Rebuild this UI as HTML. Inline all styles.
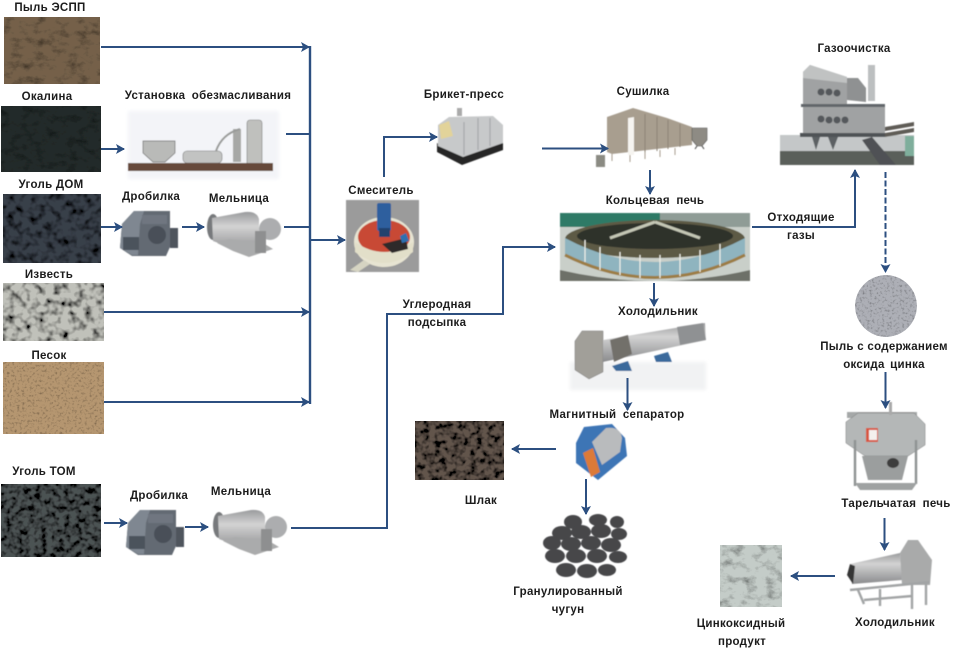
<!DOCTYPE html>
<html><head><meta charset="utf-8">
<style>
html,body{margin:0;padding:0;background:#fff;width:957px;height:651px;overflow:hidden}
svg{display:block}
text{font-family:"Liberation Sans","DejaVu Sans",sans-serif;font-weight:bold;font-size:11.5px;fill:#1c1c1c;text-anchor:middle;letter-spacing:.28px}
.l{fill:none;stroke:#2c4f80;stroke-width:2}
.th{stroke-width:2.4}
</style></head><body>
<svg width="957" height="651" viewBox="0 0 957 651" xmlns="http://www.w3.org/2000/svg">
<defs>
<marker id="a" markerUnits="userSpaceOnUse" markerWidth="10" markerHeight="12" refX="8" refY="5" orient="auto"><path d="M0 0L9 5L0 10L2 5Z" fill="#2c4f80"/></marker>
<filter id="dust" x="0" y="0" width="100%" height="100%"><feTurbulence type="fractalNoise" baseFrequency=".09 .13" numOctaves="4" seed="3"/><feColorMatrix values="1.5 0 0 0 .2 1.5 0 0 0 .2 1.5 0 0 0 .2 0 0 0 0 1"/><feBlend in2="SourceGraphic" mode="multiply"/><feComposite in2="SourceGraphic" operator="in"/></filter>
<filter id="rock" x="0" y="0" width="100%" height="100%"><feTurbulence type="fractalNoise" baseFrequency=".13" numOctaves="2" seed="7"/><feColorMatrix values="2.6 0 0 0 -.5 2.6 0 0 0 -.5 2.6 0 0 0 -.5 0 0 0 0 1"/><feBlend in2="SourceGraphic" mode="multiply"/><feComposite in2="SourceGraphic" operator="in"/></filter>
<filter id="rock2" x="0" y="0" width="100%" height="100%"><feTurbulence type="fractalNoise" baseFrequency=".17" numOctaves="2" seed="11"/><feColorMatrix values="3 0 0 0 -.85 3 0 0 0 -.85 3 0 0 0 -.85 0 0 0 0 1"/><feBlend in2="SourceGraphic" mode="multiply"/><feComposite in2="SourceGraphic" operator="in"/></filter>
<filter id="fine" x="0" y="0" width="100%" height="100%"><feTurbulence type="fractalNoise" baseFrequency=".4" numOctaves="2" seed="5"/><feColorMatrix values="1.4 0 0 0 .3 1.4 0 0 0 .3 1.4 0 0 0 .3 0 0 0 0 1"/><feBlend in2="SourceGraphic" mode="multiply"/><feComposite in2="SourceGraphic" operator="in"/></filter>
<filter id="b"><feGaussianBlur stdDeviation=".5"/></filter>
<filter id="t"><feGaussianBlur stdDeviation=".3"/></filter>
<filter id="b2"><feGaussianBlur stdDeviation="1.8"/></filter>
<linearGradient id="drum" x1="0" y1="0" x2="0" y2="1"><stop offset="0" stop-color="#9a9b9d"/><stop offset=".35" stop-color="#d3d3d3"/><stop offset="1" stop-color="#8a8b8d"/></linearGradient>
<g id="crusher"><path d="M2 14L14 1H50V37L46 46H12L0 38Z" fill="#636a73"/><path d="M2 14L14 1H24L20 14L18 45H12L0 38Z" fill="#7f8791"/><rect x="3" y="27" width="16" height="13" fill="#4c535c"/><circle cx="37" cy="25" r="9" fill="#4a5058"/><rect x="22" y="5" width="25" height="9" fill="#6f7680"/><rect x="50" y="18" width="8" height="20" fill="#4f555d"/></g>
<g id="mill"><ellipse cx="8" cy="14" rx="6" ry="13" fill="#77797c"/><path d="M7 5L40 -1Q52 -2 54 6L54 30L40 40L8 28Z" fill="url(#drum)"/><ellipse cx="65" cy="16" rx="11" ry="11" fill="#acadaf"/><path d="M12 30L24 26L58 30L68 36L44 44L28 38Z" fill="#aaabac"/><rect x="50" y="18" width="11" height="22" fill="#8e8f90"/></g>
</defs>
<rect width="957" height="651" fill="#fff"/>

<!-- material photos -->
<rect x="4" y="17" width="96" height="67" fill="#75614a" filter="url(#dust)"/>
<rect x="1" y="106" width="100" height="66" fill="#232b2a" filter="url(#dust)"/>
<rect x="3" y="194" width="98" height="69" fill="#383f49" filter="url(#rock)"/>
<rect x="3" y="283" width="101" height="58" fill="#c0c1ba" filter="url(#rock)"/>
<rect x="3" y="362" width="101" height="72" fill="#b59670" filter="url(#fine)"/>
<rect x="1" y="484" width="100" height="73" fill="#4c5253" filter="url(#rock2)"/>
<rect x="415" y="421" width="89" height="59" fill="#62554c" filter="url(#rock2)"/>
<rect x="720" y="545" width="62" height="62" fill="#c4ccc8" filter="url(#dust)"/>

<!-- De-oiling unit -->
<g filter="url(#b)">
<rect x="128" y="111" width="151" height="68" fill="#f3f4f8" filter="url(#b2)"/>
<path d="M143 141H175V153L165 162H153L143 153Z" fill="#b9bab8" stroke="#6c6c6c" stroke-width=".7"/>
<rect x="183" y="151" width="39" height="12" rx="4" fill="#c2c3c2" stroke="#777" stroke-width=".6"/>
<rect x="233" y="129" width="8" height="33" fill="#a7a8a6"/>
<rect x="247" y="120" width="15" height="48" rx="3" fill="#bfc0bd" stroke="#7a7a7a" stroke-width=".6"/>
<path d="M216 151Q222 134 240 129" fill="none" stroke="#9a9b9a" stroke-width="2"/>
<rect x="128" y="163" width="145" height="8" fill="#664a3a"/>
</g>

<!-- Crushers and mills -->
<use href="#crusher" x="120" y="210" filter="url(#b)"/>
<use href="#mill" x="205" y="213" filter="url(#b)"/>
<use href="#crusher" x="126" y="509" filter="url(#b)"/>
<use href="#mill" x="211" y="511" filter="url(#b)"/>

<!-- Mixer -->
<g filter="url(#b)">
<rect x="346" y="200" width="73" height="72" fill="#9b9b9b"/>
<ellipse cx="384" cy="242" rx="30" ry="25" fill="#e7e4d2"/>
<ellipse cx="384" cy="237" rx="26" ry="17" fill="#c84a36"/>
<path d="M355 242Q384 262 413 242V252Q384 274 355 252Z" fill="#e2dfc9"/>
<rect x="377" y="203" width="14" height="28" rx="2" fill="#2f5f9e"/>
<rect x="379" y="228" width="11" height="9" fill="#24426e"/>
<path d="M382 244L406 238L408 249L392 253Z" fill="#2d2a2a"/>
<path d="M400 236L406 233L409 241L402 243Z" fill="#2f6fb0"/>
<path d="M350 270L364 260L370 264L358 272Z" fill="#d6d4c2"/>
</g>

<!-- Press -->
<g filter="url(#b)">
<path d="M437 152L462 165L503 150V141L462 155L437 143Z" fill="#262626"/>
<path d="M438 125L449 117L493 116L503 125V143L463 157L438 146Z" fill="#c7c9ca"/>
<path d="M439 125L449 121L453 136L441 139Z" fill="#e2d39a"/>
<path d="M464 122V155M478 118V150M490 118V146" stroke="#a6a8aa" stroke-width="1.2"/>
<rect x="457" y="108" width="5" height="8" fill="#aaa"/>
</g>

<!-- Dryer -->
<g filter="url(#b)">
<path d="M607 117L633 108L667 118L692 127V145L612 154L607 152Z" fill="#a89e8f"/>
<path d="M628 118L634 117V155L628 155Z" fill="#f6f4f0"/>
<path d="M645 114V152M657 117V151M668 120V149M680 124V147" stroke="#8c8374" stroke-width="1"/>
<path d="M612 154V161M630 155V162M645 152V159M660 150V157M675 148V155" stroke="#a89e8f" stroke-width="1"/>
<path d="M692 128H707V140L702 146H697L692 140Z" fill="#8e8b84" stroke="#555" stroke-width=".6"/>
<path d="M697 146L695 149M702 146L704 149" stroke="#444"/>
<rect x="596" y="155" width="9" height="12" fill="#8b8b83"/>
</g>

<!-- Ring furnace -->
<g filter="url(#b)">
<rect x="560" y="213" width="190" height="68" fill="#c9cfc9"/>
<rect x="560" y="213" width="100" height="14" fill="#2f7a66"/>
<rect x="660" y="213" width="90" height="14" fill="#8f9c96"/>
<ellipse cx="655" cy="239" rx="90" ry="19" fill="#5d5a44"/>
<ellipse cx="655" cy="236" rx="78" ry="13" fill="#2e312c"/>
<path d="M565 238Q655 286 745 238V255Q655 300 565 255Z" fill="#8fb4bf"/>
<path d="M565 255Q655 300 745 255" fill="none" stroke="#9c7d45" stroke-width="3"/>
<path d="M655 222L610 238M655 222L700 238" stroke="#c4c7b5" stroke-width="3"/>
<path d="M585 240V262M600 247V270M620 252V275M640 255V278M660 255V278M680 254V276M700 250V272M720 244V266" stroke="#efefe8" stroke-width="1.2"/>
<path d="M560 270Q655 292 750 270V281H560Z" fill="#6d7067"/>
</g>

<!-- Gas cleaning -->
<g filter="url(#b)">
<rect x="780" y="135" width="134" height="30" fill="#c4c7c8"/>
<path d="M803 72L810 65L847 77V105H885V135H803Z" fill="#a0a2a3"/>
<path d="M803 72L810 65L847 77V83L803 78Z" fill="#c0c2c2"/>
<rect x="801" y="104" width="84" height="3" fill="#62666a"/>
<rect x="868" y="65" width="7" height="36" fill="#bcbfc0"/>
<path d="M847 78H858L866 88V102L847 100Z" fill="#8f9192"/>
<g fill="#55595c"><circle cx="821" cy="92" r="3.5"/><circle cx="829" cy="92" r="3.5"/><circle cx="837" cy="93" r="3.5"/><circle cx="821" cy="119" r="3.5"/><circle cx="829" cy="120" r="3.5"/><circle cx="837" cy="120" r="3.5"/><circle cx="845" cy="120" r="3.5"/></g>
<rect x="800" y="133" width="85" height="4" fill="#4f5356"/>
<path d="M812 137H820L816 150ZM828 137H838L833 150Z" fill="#5c6063"/>
<path d="M885 127L914 122V126L885 131ZM885 133L914 128V132L885 137Z" fill="#5f5b56"/>
<rect x="780" y="151" width="134" height="14" fill="#5a5f5a"/>
<path d="M872 137L896 165H880L862 140Z" fill="#4f5154"/>
<rect x="905" y="136" width="9" height="20" fill="#7fae9c"/>
</g>

<!-- Zinc dust -->
<ellipse cx="886" cy="306" rx="31" ry="31" fill="#adafb6" filter="url(#fine)"/>

<!-- Cooler -->
<g filter="url(#b)">
<rect x="570" y="362" width="136" height="28" fill="#f1f2f3" filter="url(#b2)"/>
<path d="M575 341L582 331H603V372L589 379L575 370Z" fill="#a19f99" stroke="#777" stroke-width=".5"/>
<path d="M603 340L705 323L706 340L603 362Z" fill="url(#drum)"/>
<path d="M610 340L628 335L632 354L614 362Z" fill="#72706b"/>
<path d="M677 327L703 323L706 340L680 345Z" fill="#8f9193"/>
<path d="M612 366L628 361L632 371H616ZM654 356L668 352L672 362H656Z" fill="#3a6a9c"/>
</g>

<!-- Magnetic separator -->
<g filter="url(#b)">
<path d="M576 443L584 427L612 424L625 438L627 456L598 480L576 463Z" fill="#3d74b5"/>
<path d="M592 442L606 428Q620 426 622 438L620 452L602 465Z" fill="#b9bbbd"/>
<path d="M583 453L593 448L600 472L591 477Z" fill="#dc7a38"/>
</g>

<!-- Pellets -->
<g filter="url(#b)">
<g fill="#46474a">
<ellipse cx="573" cy="522" rx="9" ry="7"/><ellipse cx="598" cy="520" rx="9" ry="6"/><ellipse cx="617" cy="522" rx="7" ry="6"/>
<ellipse cx="562" cy="533" rx="10" ry="7"/><ellipse cx="581" cy="532" rx="10" ry="7"/><ellipse cx="601" cy="531" rx="10" ry="7"/><ellipse cx="619" cy="534" rx="8" ry="6"/>
<ellipse cx="552" cy="543" rx="9" ry="7"/><ellipse cx="571" cy="544" rx="10" ry="7"/><ellipse cx="591" cy="543" rx="10" ry="7"/><ellipse cx="611" cy="545" rx="10" ry="7"/>
<ellipse cx="555" cy="556" rx="10" ry="7"/><ellipse cx="576" cy="556" rx="10" ry="7"/><ellipse cx="597" cy="556" rx="10" ry="7"/><ellipse cx="618" cy="557" rx="9" ry="6"/>
<ellipse cx="566" cy="570" rx="10" ry="7"/><ellipse cx="587" cy="571" rx="10" ry="7"/><ellipse cx="607" cy="570" rx="9" ry="6"/>
</g></g>

<!-- Plate furnace -->
<g filter="url(#b)">
<rect x="847" y="412" width="70" height="6" fill="#a5a8a8"/>
<path d="M846 422L858 413H914L925 424V445L908 456H865L846 443Z" fill="#b4b7b7" stroke="#777" stroke-width=".5"/>
<rect x="866" y="428" width="12" height="14" fill="#d8553f"/>
<rect x="869" y="430" width="8" height="10" fill="#f4f0ee"/>
<path d="M862 456H908L902 480H868Z" fill="#9b9e9e"/>
<path d="M855 440V486M916 440V484" fill="none" stroke="#8e9292" stroke-width="2.4"/>
<path d="M855 483H917L912 490H860Z" fill="#9fa2a2"/>
<rect x="889" y="402" width="3" height="13" fill="#a9a9a9"/>
<ellipse cx="893" cy="463" rx="6" ry="5" fill="#3c3c3c"/>
</g>

<!-- Cooler 2 -->
<g filter="url(#b)">
<path d="M850 564L900 553L902 580L852 584Z" fill="url(#drum)"/>
<path d="M850 564L847 575L853 584L855 566Z" fill="#353535"/>
<path d="M900 553L908 540H918L932 560L930 585H902Z" fill="#a9aaaa"/>
<path d="M850 590L930 582M858 590L864 604M880 589V606M912 584V609M926 582V605M864 600L912 596" stroke="#a2a4a5" stroke-width="2.4" fill="none"/>
</g>

<!-- connectors -->
<path class="l th" d="M310 46V404"/>
<path class="l" d="M101 47H309" marker-end="url(#a)"/>
<path class="l" d="M286 134H310"/>
<path class="l" d="M284 227H310"/>
<path class="l" d="M104 312H309" marker-end="url(#a)"/>
<path class="l" d="M104 402H309" marker-end="url(#a)"/>
<path class="l" d="M310 240H345" marker-end="url(#a)"/>
<path class="l" d="M101 149H124" marker-end="url(#a)"/>
<path class="l" d="M101 227H122" marker-end="url(#a)"/>
<path class="l" d="M182 227H204" marker-end="url(#a)"/>
<path class="l" d="M104 523H127" marker-end="url(#a)"/>
<path class="l" d="M185 527H208" marker-end="url(#a)"/>
<path class="l" d="M291 528H387V314H503V247H555" marker-end="url(#a)"/>
<path class="l" d="M384 177V137H437" marker-end="url(#a)"/>
<path class="l" d="M542 148.500H608" marker-end="url(#a)"/>
<path class="l" d="M650 170V194" marker-end="url(#a)"/>
<path class="l" d="M654 283V306" marker-end="url(#a)"/>
<path class="l" d="M627.500 378V410" marker-end="url(#a)"/>
<path class="l" d="M556 449H512" marker-end="url(#a)"/>
<path class="l" d="M586 479V514" marker-end="url(#a)"/>
<path class="l" d="M752 227H855V170" marker-end="url(#a)"/>
<path class="l" d="M885.500 172V272" stroke-dasharray="6 2.500" marker-end="url(#a)"/>
<path class="l" d="M885.500 372V408" marker-end="url(#a)"/>
<path class="l" d="M884.500 518V550" marker-end="url(#a)"/>
<path class="l" d="M835 576H791" marker-end="url(#a)"/>

<!-- labels -->
<g filter="url(#t)">
<text x="50" y="11">Пыль ЭСПП</text>
<text x="47" y="100">Окалина</text>
<text x="208" y="99" style="word-spacing:3px">Установка обезмасливания</text>
<text x="464" y="98">Брикет-пресс</text>
<text x="643" y="95">Сушилка</text>
<text x="854" y="52">Газоочистка</text>
<text x="51" y="188">Уголь ДОМ</text>
<text x="151" y="200">Дробилка</text>
<text x="239" y="202">Мельница</text>
<text x="381" y="194">Смеситель</text>
<text x="655" y="204" style="word-spacing:3px">Кольцевая печь</text>
<text x="801" y="221">Отходящие</text>
<text x="801" y="239">газы</text>
<text x="49" y="278">Известь</text>
<text x="437" y="308">Углеродная</text>
<text x="437" y="326">подсыпка</text>
<text x="658" y="315">Холодильник</text>
<text x="884" y="350">Пыль с содержанием</text>
<text x="884" y="368" style="word-spacing:2px">оксида цинка</text>
<text x="49" y="359">Песок</text>
<text x="617" y="418" style="word-spacing:3px">Магнитный сепаратор</text>
<text x="44" y="475">Уголь ТОМ</text>
<text x="159" y="499">Дробилка</text>
<text x="241" y="495">Мельница</text>
<text x="481" y="504">Шлак</text>
<text x="896" y="507" style="word-spacing:3px">Тарельчатая печь</text>
<text x="568" y="595">Гранулированный</text>
<text x="568" y="613">чугун</text>
<text x="741" y="627">Цинкоксидный</text>
<text x="742" y="645">продукт</text>
<text x="895" y="626">Холодильник</text>
</g>
</svg>
</body></html>
